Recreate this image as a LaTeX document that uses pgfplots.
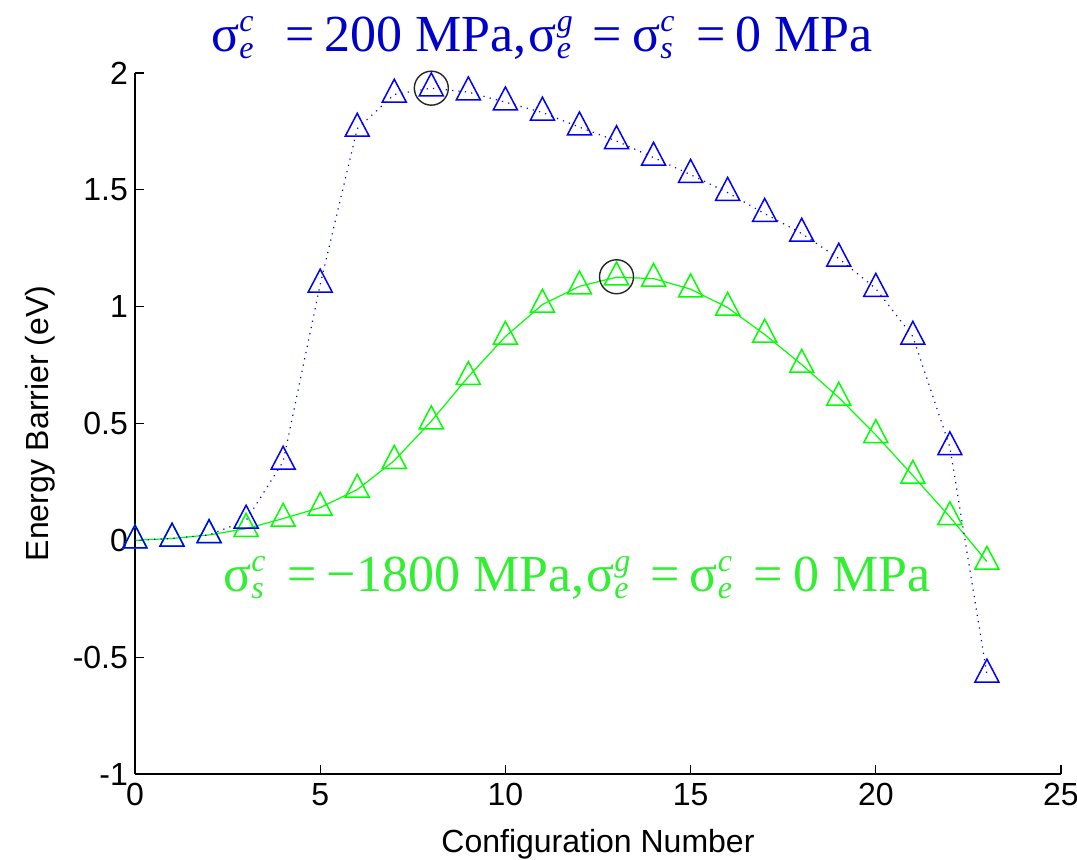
\documentclass[border=0pt]{standalone}
\usepackage{fontspec}
\setmainfont{Liberation Sans}
\newfontfamily\ttlfont{Liberation Serif}
\usepackage{pgfplots}
\pgfplotsset{compat=1.18}
\definecolor{mBlue}{HTML}{0000FF}
\definecolor{mGreen}{HTML}{00FF00}
\definecolor{tBlue}{HTML}{0000CC}
\definecolor{tGreen}{HTML}{33EE33}
% sigma with sub- and superscript, set in text fonts
\newcommand{\sg}[2]{σ\makebox[0.5em][l]{\raisebox{-3.5pt}{\fontsize{16}{16}\selectfont\itshape #1}}\hspace{-0.5em}\makebox[0.5em][l]{\raisebox{10pt}{\fontsize{16}{16}\selectfont\itshape #2}}}
\newcommand{\eq}{\hspace{5pt}=\hspace{5pt}}

\pgfplotstableread{
x   y
0   0.000
1   0.008
2   0.023
3   0.085
4   0.337
5   1.095
6   1.762
7   1.908
8   1.935
9   1.918
10  1.875
11  1.831
12  1.768
13  1.709
14  1.638
15  1.565
16  1.488
17  1.398
18  1.313
19  1.206
20  1.077
21  0.872
22  0.399
23  -0.574
}\blueData

\pgfplotstableread{
x   y
0   0.000
1   0.008
2   0.023
3   0.050
4   0.093
5   0.140
6   0.217
7   0.341
8   0.510
9   0.700
10  0.872
11  1.009
12  1.087
13  1.126
14  1.120
15  1.075
16  0.996
17  0.881
18  0.752
19  0.611
20  0.451
21  0.277
22  0.100
23  -0.091
}\greenData

\begin{document}
\begin{tikzpicture}
\begin{axis}[
    scale only axis, width=463pt, height=350.5pt,
    xmin=0, xmax=25, ymin=-1, ymax=2,
    axis x line*=bottom, axis y line*=left,
    axis line style={black, line width=0.6pt},
    tick style={black, line width=0.6pt},
    tick align=inside, major tick length=4.5pt,
    xtick={0,5,10,15,20,25}, xticklabels={0,5,10,15,20,25},
    ytick={-1,-0.5,0,0.5,1,1.5,2}, yticklabels={-1,-0.5,0,0.5,1,1.5,2},
    tick label style={font=\fontsize{16}{19}\selectfont},
    xticklabel style={yshift=-1pt},
    label style={font=\fontsize{16}{19}\selectfont},
    xlabel={Configuration Number},
    ylabel={Energy Barrier (eV)},
    xlabel style={at={(axis description cs:0.5,-0.1113)}, anchor=base},
    ylabel style={at={(axis description cs:-0.1026,0.5)}, anchor=center},
    clip=false,
]
\addplot[mGreen, line width=0.6pt, mark=triangle, mark size=6.93pt,
    mark options={solid, line width=0.75pt, yscale=1.1}] table[x=x, y=y] {\greenData};
\addplot[mBlue, line width=0.6pt, dash pattern=on 0.6pt off 2.6pt, mark=triangle, mark size=6.93pt,
    mark options={solid, line width=0.75pt, yscale=1.1}] table[x=x, y=y] {\blueData};
\addplot[only marks, mark=o, mark size=8.5pt, mark options={draw=black!85, line width=0.7pt}]
    coordinates {(8,1.935) (13,1.128)};
\node[anchor=base, text=tBlue, font=\ttlfont\fontsize{26}{30}\selectfont] at (axis cs:10.99,2.09)
    {\sg{e}{c}\hspace{5pt}\eq 200 MPa,\hspace{1pt}\sg{e}{g}\eq\sg{s}{c}\eq 0 MPa};
\node[anchor=base, text=tGreen, font=\ttlfont\fontsize{26}{30}\selectfont] at (axis cs:11.93,-0.221)
    {\sg{s}{c}\eq −1800 MPa,\hspace{1pt}\sg{e}{g}\eq\sg{e}{c}\eq 0 MPa};
\end{axis}
\pgfresetboundingbox
\path ([shift={(-67.5pt,-43pt)}]current axis.south west) rectangle ([shift={(8pt,36.5pt)}]current axis.north east);
\end{tikzpicture}
\end{document}
